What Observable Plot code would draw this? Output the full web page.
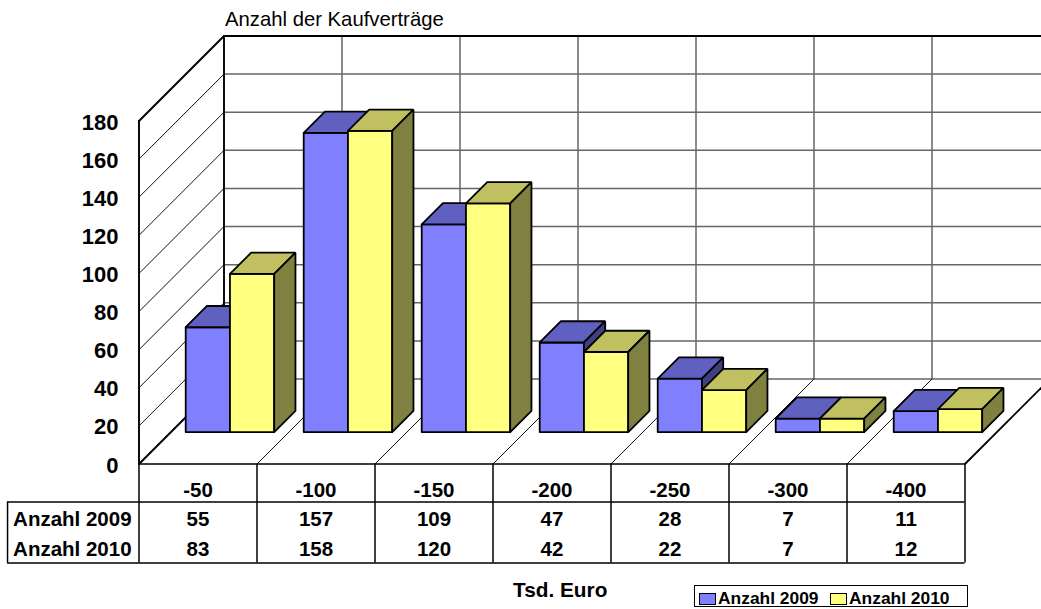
<!DOCTYPE html>
<html>
<head>
<meta charset="utf-8">
<script src="https://cdn.jsdelivr.net/npm/d3@7"></script>
<script src="https://cdn.jsdelivr.net/npm/@observablehq/plot@0.6"></script>
<style>
html,body{margin:0;padding:0;background:#fff;overflow:hidden}
#wrap{position:relative;width:1041px;height:609px;font-family:"Liberation Sans",Arial,sans-serif;color:#000}
#wrap svg{position:absolute;left:0;top:0}
.lbl{position:absolute;white-space:nowrap;line-height:1}
#legend{position:absolute;left:694px;top:585px;width:272px;height:20px;border:1.5px solid #000;background:#fff;font-weight:bold;font-size:17.4px}
#legend .sw{position:absolute;top:6.5px;width:15px;height:10px;border:1px solid #000}
#legend .tx{position:absolute;top:3.5px;line-height:1;white-space:nowrap}
</style>
</head>
<body>
<div id="wrap">
  <div class="lbl" style="left:225px;top:9px;font-size:20.3px">Anzahl der Kaufverträge</div>
  <div class="lbl" style="left:513px;top:580px;font-size:20.8px;font-weight:bold">Tsd. Euro</div>
  <div id="legend">
    <div class="sw" style="left:4px;background:#8080ff"></div><div class="tx" style="left:23px">Anzahl 2009</div>
    <div class="sw" style="left:135px;background:#ffff80"></div><div class="tx" style="left:154px">Anzahl 2010</div>
  </div>
</div>
<script>
const categories = ["-50","-100","-150","-200","-250","-300","-400"];
const anzahl2009 = [55,157,109,47,28,7,11];
const anzahl2010 = [83,158,120,42,22,7,12];
const seriesNames = ["Anzahl 2009","Anzahl 2010"];
const yTicks = [0,20,40,60,80,100,120,140,160,180];

// oblique projection of (category, value, depth) onto the plot scales
const depthU = 85/118, depthV = 85/(343/180);
const px = (u,d) => u + d*depthU;
const py = (v,d) => v + d*depthV;
const pt = (u,v,d,id,color) => ({x:px(u,d), y:py(v,d), id, color});
const seg = (id,a,b) => [pt(a[0],a[1],a[2],id), pt(b[0],b[1],b[2],id)];

const nCat = categories.length, yMax = 180;
const barGap = 0.125, barW = 0.375, d0 = 0.376, d1 = 0.626;
const palette = [
  {front:"#8080ff", top:"#6060c0", side:"#404080"},
  {front:"#ffff80", top:"#c0c060", side:"#808040"}
];

const faces = [];
categories.forEach((c,i) => {
  [anzahl2009[i], anzahl2010[i]].forEach((v,s) => {
    const l = i + barGap + s*barW, r = l + barW, p = palette[s];
    const poly = (name,color,pts) => {
      const id = `${i}-${s}-${name}`;
      [...pts, pts[0]].forEach(q => faces.push(pt(q[0],q[1],q[2],id,color)));
    };
    poly("front", p.front, [[l,0,d0],[r,0,d0],[r,v,d0],[l,v,d0]]);
    poly("top",   p.top,   [[l,v,d0],[r,v,d0],[r,v,d1],[l,v,d1]]);
    poly("side",  p.side,  [[r,0,d0],[r,0,d1],[r,v,d1],[r,v,d0]]);
  });
});

const backGrid = [
  ...yTicks.slice(0,-1).flatMap(v => seg("h"+v,[0,v,1],[nCat,v,1])),
  ...d3.range(1,nCat).flatMap(u => seg("v"+u,[u,0,1],[u,yMax,1]))
];
const thinDiag = [
  ...yTicks.slice(1,-1).flatMap(v => seg("w"+v,[0,v,0],[0,v,1])),
  ...d3.range(1,nCat).flatMap(u => seg("f"+u,[u,0,0],[u,0,1]))
];
const heavy = [
  ...seg("a",[0,yMax,0],[0,yMax,1]),
  ...seg("b",[0,yMax,1],[0,0,1]),
  ...seg("c",[0,yMax,1],[nCat,yMax,1]),
  ...seg("d",[0,0,0],[0,0,1]),
  ...seg("e",[nCat,0,0],[nCat,0,1]),
  ...seg("g",[0,0,0],[0,yMax,0])
];

// table below the floor, in value units
const rowTop = -20, rowBottom = -52, tableLeft = -1.114;
const yCat = -14, yRows = [-29, -44.7], labelX = -0.565;
const tableCols = d3.range(0,nCat+1);
const cells = categories.map((c,i)=>({c,i}));
const txt = {fontWeight:"bold", fontSize:20.5, fill:"#000", lineAnchor:"middle", textAnchor:"middle"};

const chart = Plot.plot({
  width:1041, height:609,
  marginLeft:138.5, marginRight:76.5, marginTop:120.5, marginBottom:145.5,
  x:{domain:[0,nCat], axis:null},
  y:{domain:[0,yMax]},
  style:{fontFamily:'"Liberation Sans",Arial,sans-serif', background:"transparent"},
  marks:[
    Plot.line(backGrid,{x:"x",y:"y",z:"id",stroke:"#666",strokeWidth:1.5}),
    Plot.line(thinDiag,{x:"x",y:"y",z:"id",stroke:"#111",strokeWidth:1}),
    Plot.line(heavy,{x:"x",y:"y",z:"id",stroke:"#000",strokeWidth:1.9}),
    Plot.line(faces,{x:"x",y:"y",z:"id",fill:"color",stroke:"#000",strokeWidth:1.8,strokeLinejoin:"miter"}),
    Plot.axisY({ticks:yTicks,tickSize:0,tickPadding:20.5,label:null,fontWeight:"bold",fontSize:22,fill:"#000",dy:1.5}),
    Plot.ruleX(tableCols,{x:d=>d,y1:0,y2:rowBottom,stroke:"#000",strokeWidth:1.5}),
    Plot.ruleX([tableLeft],{y1:rowTop,y2:rowBottom,stroke:"#000",strokeWidth:1.5}),
    Plot.ruleY([0],{x1:0,x2:nCat,stroke:"#000",strokeWidth:1.5}),
    Plot.ruleY([rowTop,rowBottom],{x1:tableLeft,x2:nCat,stroke:"#000",strokeWidth:1.5}),
    Plot.text(cells,{x:d=>d.i+.5,y:()=>yCat,text:"c",...txt}),
    Plot.text(cells,{x:d=>d.i+.5,y:()=>yRows[0],text:d=>String(anzahl2009[d.i]),...txt}),
    Plot.text(cells,{x:d=>d.i+.5,y:()=>yRows[1],text:d=>String(anzahl2010[d.i]),...txt}),
    Plot.text(seriesNames,{x:()=>labelX,y:(d,i)=>yRows[i],text:d=>d,...txt})
  ]
});
document.getElementById("wrap").prepend(chart);
</script>
</body>
</html>
